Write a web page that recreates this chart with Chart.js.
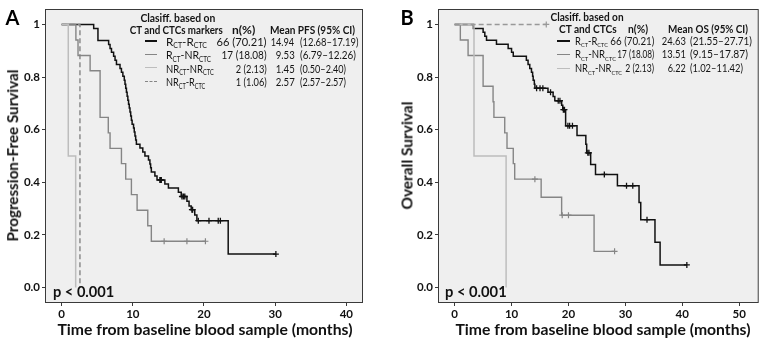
<!DOCTYPE html>
<html><head><meta charset="utf-8">
<script src="https://cdn.jsdelivr.net/npm/chart.js@4.4.1/dist/chart.umd.min.js"></script>
<style>
html,body{margin:0;padding:0;background:#fff;}
body{width:763px;height:348px;position:relative;overflow:hidden;font-family:Lato,sans-serif;}
canvas{position:absolute;top:0;}
.t{position:absolute;white-space:nowrap;line-height:1;color:#1a1a1a;}
.s{font-size:0.6em;position:relative;top:0.38em;}
.ln{position:absolute;height:0;}
</style></head><body>
<canvas id="cA" width="381" height="348" style="left:0"></canvas>
<canvas id="cB" width="382" height="348" style="left:381px"></canvas>
<script>
// ---------- tick values ----------
const pfsTicksX = [0, 10, 20, 30, 40];
const osTicksX = [0, 10, 20, 30, 40, 50];
const survTicks = [0, 0.2, 0.4, 0.6, 0.8, 1];
const survTickLabels = ['0.0', '0.2', '0.4', '0.6', '0.8', '1'];

// ---------- legend content ----------
const pfsGroups = ['R_{CT}-R_{CTC}', 'R_{CT}-NR_{CTC}', 'NR_{CT}-NR_{CTC}', 'NR_{CT}-R_{CTC}'];
const pfsN = ['66 (70.21)', '17 (18.08)', '2 (2.13)', '1 (1.06)'];
const pfsMean = ['14.94', '9.53', '1.45', '2.57'];
const pfsCI = ['(12.68–17.19)', '(6.79–12.26)', '(0.50–2.40)', '(2.57–2.57)'];
const osGroups = ['R_{CT}-R_{CTC}', 'R_{CT}-NR_{CTC}', 'NR_{CT}-NR_{CTC}'];
const osN = ['66 (70.21)', '17 (18.08)', '2 (2.13)'];
const osMean = ['24.63', '13.51', '6.22'];
const osCI = ['(21.55–27.71)', '(9.15–17.87)', '(1.02–11.42)'];

// ---------- Panel A: PFS (event times, survival after each event, censored times) ----------
const pfsRRTimes = [4.5, 5.1, 6.6, 6.8, 7.0, 7.3, 7.5, 7.7, 8.2, 8.4, 8.6, 8.8, 8.9, 9.0, 9.1, 9.2, 9.3, 9.4, 9.5, 9.6, 9.7, 9.8, 9.9, 10.1, 10.2, 10.3, 10.4, 10.5, 11.0, 11.4, 11.7, 12.2, 12.4, 12.5, 12.6, 13.1, 13.4, 14.5, 15.0, 16.4, 16.8, 17.6, 17.9, 18.2, 18.7, 19.0, 23.4];
const pfsRRSurv = [0.985, 0.939, 0.924, 0.909, 0.894, 0.879, 0.864, 0.848, 0.833, 0.818, 0.803, 0.788, 0.773, 0.758, 0.742, 0.727, 0.712, 0.697, 0.682, 0.667, 0.652, 0.636, 0.621, 0.606, 0.591, 0.576, 0.561, 0.545, 0.530, 0.515, 0.500, 0.485, 0.470, 0.455, 0.439, 0.424, 0.409, 0.394, 0.378, 0.362, 0.346, 0.328, 0.310, 0.296, 0.276, 0.254, 0.127];
const pfsRRCensor = [13.8, 13.9, 14.0, 16.9, 17.1, 17.3, 18.3, 18.4, 19.2, 20.7, 22.0, 22.3, 30.1];

const pfsRNRTimes = [2.0, 2.3, 4.0, 5.4, 6.55, 6.8, 8.4, 9.0, 9.8, 10.6, 12.1, 12.6];
const pfsRNRSurv = [0.941, 0.882, 0.824, 0.647, 0.588, 0.529, 0.471, 0.412, 0.353, 0.294, 0.235, 0.176];
const pfsRNRCensor = [14.4, 17.6, 20.2];

const pfsNNTimes = [0.93, 1.97];
const pfsNNSurv = [0.5, 0];
const pfsNNCensor = [];

const pfsNRTimes = [2.57];
const pfsNRSurv = [0];
const pfsNRCensor = [];

// ---------- Panel B: OS ----------
const osRRTimes = [3.3, 5.0, 5.3, 5.6, 7.35, 9.4, 10.0, 10.3, 12.6, 12.9, 13.2, 13.5, 13.7, 13.8, 14.0, 14.1, 16.4, 17.3, 17.6, 18.8, 19.0, 19.5, 21.5, 23.05, 23.2, 23.9, 24.75, 28.6, 32.4, 32.7, 35.2, 36.1];
const osRRSurv = [0.985, 0.970, 0.955, 0.940, 0.925, 0.909, 0.894, 0.879, 0.864, 0.848, 0.833, 0.818, 0.803, 0.788, 0.773, 0.758, 0.742, 0.726, 0.710, 0.693, 0.676, 0.615, 0.578, 0.545, 0.512, 0.468, 0.430, 0.387, 0.323, 0.258, 0.172, 0.086];
const osRRCensor = [14.4, 15.0, 15.5, 16.85, 18.2, 18.5, 19.1, 19.3, 19.9, 20.2, 20.7, 23.4, 23.6, 26.3, 30.2, 31.3, 33.8, 40.8];

const osRNRTimes = [1.0, 2.36, 5.0, 6.75, 6.9, 8.8, 9.2, 10.3, 10.55, 15.2, 18.8, 24.5];
const osRNRSurv = [0.941, 0.882, 0.765, 0.706, 0.647, 0.588, 0.529, 0.471, 0.412, 0.343, 0.275, 0.1375];
const osRNRCensor = [14.1, 18.9, 20.0, 28.1];

const osNNTimes = [3.4, 9.04];
const osNNSurv = [0.5, 0];
const osNNCensor = [];

const osNRTimes = [];
const osNRSurv = [];
const osNRCensor = [16.1];

// ---------- helpers ----------
const BLACK = '#111111', GRAY = '#858585', LIGHT = '#bdbdbd';

function survAt(times, surv, t) {
  let s = 1;
  for (let i = 0; i < times.length; i++) if (times[i] <= t) s = surv[i];
  return s;
}
function kmLine(times, surv, censor, color, width, dash) {
  const pts = [{x: 0, y: 1}];
  times.forEach((t, i) => pts.push({x: t, y: surv[i]}));
  const lastT = times.length ? times[times.length - 1] : 0;
  const maxC = censor.length ? Math.max(...censor) : -1;
  if (maxC > lastT) pts.push({x: maxC, y: survAt(times, surv, maxC)});
  return {data: pts, stepped: 'before', borderColor: color, borderWidth: width,
          borderDash: dash || [], pointRadius: 0, fill: false, showLine: true};
}
function kmCensor(times, surv, censor, color, width) {
  return {data: censor.map(c => ({x: c, y: survAt(times, surv, c)})), showLine: false,
          pointStyle: 'cross', pointRadius: 3, pointBorderColor: color, pointBorderWidth: width,
          pointBackgroundColor: color};
}

const boxPlugin = {
  id: 'box',
  beforeDraw(chart) {
    const {ctx, chartArea: a} = chart;
    ctx.save(); ctx.fillStyle = '#efefef';
    ctx.fillRect(a.left, a.top, a.right - a.left, a.bottom - a.top); ctx.restore();
  },
  afterDraw(chart) {
    const {ctx, chartArea: a} = chart;
    ctx.save(); ctx.strokeStyle = '#3a3a3a'; ctx.lineWidth = 1;
    ctx.strokeRect(a.left - 0.5, a.top - 0.5, a.right - a.left + 1, a.bottom - a.top + 1); ctx.restore();
  }
};

const tickFont = {family: 'Lato', weight: 'bold', size: 11.5};

function makeChart(id, xMin, xMax, xTicks, datasets, pad, yWidth) {
  return new Chart(document.getElementById(id), {
    type: 'line',
    data: {datasets},
    options: {
      responsive: false, animation: false, devicePixelRatio: 1,
      layout: {padding: pad},
      plugins: {legend: {display: false}, tooltip: {enabled: false}},
      scales: {
        x: {type: 'linear', min: xMin, max: xMax,
            afterBuildTicks: s => { s.ticks = xTicks.map(v => ({value: v})); },
            afterFit: s => { s.height = 46; },
            ticks: {font: tickFont, color: '#111', padding: 1, maxRotation: 0, autoSkip: false,
                    callback: v => String(v)},
            grid: {drawOnChartArea: false, tickLength: 4, color: '#3a3a3a'},
            border: {display: false}},
        y: {type: 'linear', min: -0.055, max: 1.055,
            afterBuildTicks: s => { s.ticks = survTicks.map(v => ({value: v})); },
            afterFit: s => { s.width = yWidth; },
            ticks: {font: tickFont, color: '#111', padding: 2, autoSkip: false,
                    callback: (v, i) => survTickLabels[i]},
            grid: {drawOnChartArea: false, tickLength: 4, color: '#3a3a3a'},
            border: {display: false}}
      }
    },
    plugins: [boxPlugin]
  });
}

makeChart('cA', -2.2, 42.2, pfsTicksX, [
  kmLine(pfsNNTimes, pfsNNSurv, pfsNNCensor, LIGHT, 1.5),
  kmLine(pfsNRTimes, pfsNRSurv, pfsNRCensor, GRAY, 1.4, [5, 3]),
  kmLine(pfsRNRTimes, pfsRNRSurv, pfsRNRCensor, GRAY, 1.4),
  kmCensor(pfsRNRTimes, pfsRNRSurv, pfsRNRCensor, GRAY, 1.2),
  kmLine(pfsRRTimes, pfsRRSurv, pfsRRCensor, BLACK, 1.5),
  kmCensor(pfsRRTimes, pfsRRSurv, pfsRRCensor, BLACK, 1.3)
], {left: 0, top: 10, right: 19, bottom: 0}, 46);

makeChart('cB', -2.75, 53.25, osTicksX, [
  kmLine(osNRTimes, osNRSurv, osNRCensor, '#999999', 1.4, [5, 3]),
  kmCensor(osNRTimes, osNRSurv, osNRCensor, '#999999', 1.2),
  kmLine(osNNTimes, osNNSurv, osNNCensor, LIGHT, 1.5),
  kmLine(osRNRTimes, osRNRSurv, osRNRCensor, GRAY, 1.4),
  kmCensor(osRNRTimes, osRNRSurv, osRNRCensor, GRAY, 1.2),
  kmLine(osRRTimes, osRRSurv, osRRCensor, BLACK, 1.5),
  kmCensor(osRRTimes, osRRSurv, osRRCensor, BLACK, 1.3)
], {left: 0, top: 10, right: 5, bottom: 0}, 58);

// ---------- text ----------
function sub(s) { return s.replace(/_\{([^}]*)\}/g, '<span class="s">$1</span>'); }
function put(html, x, y, o) {
  const el = document.createElement('div');
  el.className = 't';
  el.innerHTML = html;
  el.style.font = (o.bold ? 'bold ' : '') + o.size + 'px Lato';
  if (o.color) el.style.color = o.color;
  document.body.appendChild(el);
  const r = el.getBoundingClientRect();
  const w = r.width, h = r.height;
  const a = o.align || 'l';
  const fx = a === 'c' ? 0.5 : a === 'r' ? 1 : 0;
  el.style.left = (x - w * fx) + 'px';
  el.style.top = (y - h / 2) + 'px';
  el.style.transformOrigin = (fx * 100) + '% 50%';
  const s = o.w ? o.w / w : 1;
  el.style.transform = (o.rot ? 'rotate(' + o.rot + 'deg) ' : '') + 'scaleX(' + s + ')';
}
function sample(x1, x2, y, color, width, dashed) {
  const d = document.createElement('div');
  d.className = 'ln';
  d.style.left = x1 + 'px'; d.style.top = (y - width / 2) + 'px';
  d.style.width = (x2 - x1) + 'px';
  d.style.borderTop = width + 'px ' + (dashed ? 'dashed ' : 'solid ') + color;
  document.body.appendChild(d);
}

// panel letters
put('A', 12.5, 16.5, {size: 20, bold: true, align: 'c', color: '#000'});
put('B', 407, 17, {size: 20, bold: true, align: 'c', color: '#000'});
// axis titles
put('Progression-Free Survival', 11.5, 155, {size: 16, bold: true, align: 'c', rot: -90, w: 172, color: '#111'});
put('Overall Survival', 406, 155, {size: 16, bold: true, align: 'c', rot: -90, w: 108, color: '#111'});
put('Time from baseline blood sample (months)', 204.5, 328, {size: 16, bold: true, align: 'c', w: 295, color: '#111'});
put('Time from baseline blood sample (months)', 602.5, 328, {size: 16, bold: true, align: 'c', w: 295, color: '#111'});
// p values
put('p &lt; 0.001', 52.7, 290.5, {size: 16, bold: true, w: 61.3, color: '#111'});
put('p &lt; 0.001', 445, 290.5, {size: 16, bold: true, w: 61.7, color: '#111'});

// legend A
const LT = '#141414';
put('Clasiff. based on', 177.5, 17, {size: 11, bold: true, align: 'c', w: 75, color: LT});
put('CT and CTCs markers', 176.7, 29, {size: 11, bold: true, align: 'c', w: 93, color: LT});
put('n(%)', 231.7, 29, {size: 11, bold: true, w: 23.3, color: LT});
put('Mean PFS (95% CI)', 270, 29, {size: 11, bold: true, w: 85, color: LT});
const rowsA = [41, 54.5, 68, 81.7];
const colA = [BLACK, GRAY, LIGHT, GRAY];
const labWA = [41, 45, 47.7, 39.3], nWA = [50, 45, 31, 31], mWA = [23.5, 19, 19, 19], ciWA = [58.5, 56, 46, 46];
rowsA.forEach((y, i) => {
  sample(145, 157, y, colA[i], i === 0 ? 2 : 1.5, i === 3);
  put(sub(pfsGroups[i]), 165.7, y, {size: 11, color: LT, w: labWA[i]});
  put(pfsN[i], 267, y, {size: 11, color: LT, align: 'r', w: nWA[i]});
  put(pfsMean[i], 294.5, y, {size: 11, color: LT, align: 'r', w: mWA[i]});
  put(pfsCI[i], 299.5, y, {size: 11, color: LT, w: ciWA[i]});
});

// legend B
put('Clasiff. based on', 586.7, 16.7, {size: 10.5, bold: true, align: 'c', w: 73, color: LT});
put('CT and CTCs', 587.8, 29, {size: 10.5, bold: true, align: 'c', w: 57.7, color: LT});
put('n(%)', 628.3, 29, {size: 10.5, bold: true, w: 20, color: LT});
put('Mean OS (95% CI)', 668.3, 29, {size: 10.5, bold: true, w: 80, color: LT});
const rowsB = [41, 54.3, 68.3];
const colB = [BLACK, GRAY, LIGHT];
const labWB = [33, 41, 47], nWB = [44, 37, 29], mWB = [24, 24, 18], ciWB = [62, 58, 53];
rowsB.forEach((y, i) => {
  sample(557, 570, y, colB[i], i === 0 ? 2 : 1.5, false);
  put(sub(osGroups[i]), 575, y, {size: 10.5, color: LT, w: labWB[i]});
  put(osN[i], 654, y, {size: 10.5, color: LT, align: 'r', w: nWB[i]});
  put(osMean[i], 686, y, {size: 10.5, color: LT, align: 'r', w: mWB[i]});
  put(osCI[i], 690, y, {size: 10.5, color: LT, w: ciWB[i]});
});
</script>
</body></html>
